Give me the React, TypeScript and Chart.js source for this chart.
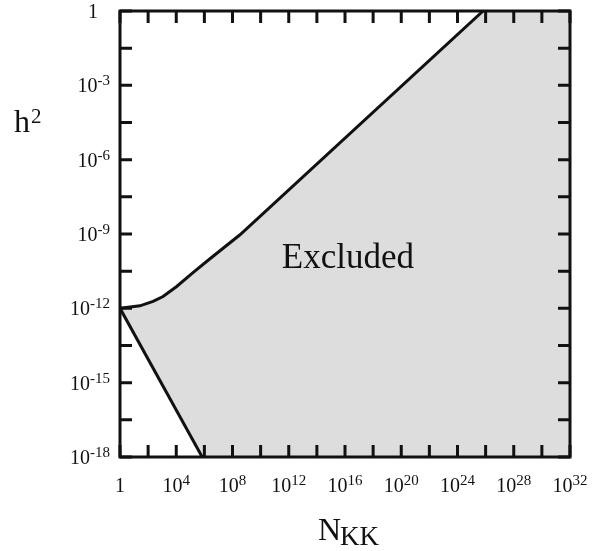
import React, { useEffect, useRef } from "react";
import { Chart, registerables } from "chart.js";

Chart.register(...registerables);

// Upper boundary of the excluded region (N_KK, h^2)
const upperN = [1, 26, 224, 1150, 1.07e4, 1.55e5, 2.5e6, 3.4e8, 6.6e25];
const upperH = [1e-12, 1.26e-12, 1.9e-12, 3.0e-12, 7.6e-12, 2.75e-11, 1e-10, 9.3e-10, 1];
// Lower boundary of the excluded region
const lowerN = [1, 7e5];
const lowerH = [1e-12, 1e-18];

const xMin = 1;
const xMax = 1e32;
const yMin = 1e-18;
const yMax = 1;

const xLabelExps = [0, 4, 8, 12, 16, 20, 24, 28, 32];
const yLabelExps = [0, -3, -6, -9, -12, -15, -18];
const xTickExps = [0, 2, 4, 6, 8, 10, 12, 14, 16, 18, 20, 22, 24, 26, 28, 30, 32];
const yTickExps = [0, -1.5, -3, -4.5, -6, -7.5, -9, -10.5, -12, -13.5, -15, -16.5, -18];

const regionLabel = "Excluded";
const regionLabelN = 1.6e16;
const regionLabelH = 1.26e-10;

const xTitle = ["N", "KK"];
const yTitle = ["h", "2"];

const FONT = '"Liberation Serif", "Times New Roman", serif';
const INK = "#111111";
const FILL = "#dddddd";

function powParts(exp: number): [string, string] {
  if (exp === 0) return ["1", ""];
  return ["10", String(exp)];
}

const decorPlugin = {
  id: "decor",
  afterDraw(chart: any) {
    const { ctx, chartArea } = chart;
    const xs = chart.scales.x;
    const ys = chart.scales.y;
    const { left, right, top, bottom } = chartArea;
    ctx.save();

    // Region label
    ctx.fillStyle = INK;
    ctx.font = `35px ${FONT}`;
    ctx.textAlign = "center";
    ctx.textBaseline = "alphabetic";
    ctx.fillText(regionLabel, xs.getPixelForValue(regionLabelN), ys.getPixelForValue(regionLabelH) + 12);

    // Frame
    ctx.strokeStyle = INK;
    ctx.lineWidth = 3;
    ctx.strokeRect(left, top, right - left, bottom - top);

    // Inward ticks
    const tl = 12;
    ctx.beginPath();
    for (const e of xTickExps) {
      const px = xs.getPixelForValue(Math.pow(10, e));
      ctx.moveTo(px, bottom);
      ctx.lineTo(px, bottom - tl);
      ctx.moveTo(px, top);
      ctx.lineTo(px, top + tl);
    }
    for (const e of yTickExps) {
      const py = ys.getPixelForValue(Math.pow(10, e));
      ctx.moveTo(left, py);
      ctx.lineTo(left + tl, py);
      ctx.moveTo(right, py);
      ctx.lineTo(right - tl, py);
    }
    ctx.stroke();

    // Tick labels
    const baseFont = `20px ${FONT}`;
    const expFont = `15px ${FONT}`;
    ctx.textAlign = "left";
    ctx.textBaseline = "alphabetic";
    for (const e of xLabelExps) {
      const px = xs.getPixelForValue(Math.pow(10, e));
      const [b, s] = powParts(e);
      ctx.font = baseFont;
      const wb = ctx.measureText(b).width;
      ctx.font = expFont;
      const ws = s ? ctx.measureText(s).width : 0;
      const x0 = px - (wb + ws) / 2;
      ctx.font = baseFont;
      ctx.fillText(b, x0, bottom + 35);
      if (s) {
        ctx.font = expFont;
        ctx.fillText(s, x0 + wb, bottom + 28);
      }
    }
    for (const e of yLabelExps) {
      const py = ys.getPixelForValue(Math.pow(10, e));
      const [b, s] = powParts(e);
      ctx.font = baseFont;
      const wb = ctx.measureText(b).width;
      ctx.font = expFont;
      const ws = s ? ctx.measureText(s).width : 0;
      const rightEdge = s ? left - 10 : left - 22;
      const x0 = rightEdge - wb - ws;
      ctx.font = baseFont;
      ctx.fillText(b, x0, py + 7);
      if (s) {
        ctx.font = expFont;
        ctx.fillText(s, x0 + wb, py);
      }
    }

    // Axis titles
    ctx.font = `32px ${FONT}`;
    ctx.fillText(yTitle[0], 14, 132);
    const wh = ctx.measureText(yTitle[0]).width;
    ctx.font = `21px ${FONT}`;
    ctx.fillText(yTitle[1], 14 + wh + 1, 123);

    ctx.font = `32px ${FONT}`;
    ctx.fillText(xTitle[0], 318, 540);
    const wn = ctx.measureText(xTitle[0]).width;
    ctx.font = `27px ${FONT}`;
    ctx.fillText(xTitle[1], 318 + wn - 1, 545);

    ctx.restore();
  },
};

export default function App() {
  const ref = useRef<HTMLCanvasElement | null>(null);

  useEffect(() => {
    if (!ref.current) return;
    const upper = upperN.map((n, i) => ({ x: n, y: upperH[i] }));
    const lower = lowerN.map((n, i) => ({ x: n, y: lowerH[i] }));
    const polygon = [
      ...upper,
      { x: xMax, y: yMax },
      { x: xMax, y: yMin },
      ...lower.slice().reverse(),
    ];
    const chart = new Chart(ref.current, {
      type: "scatter",
      data: {
        datasets: [
          {
            label: "excluded",
            data: polygon,
            showLine: true,
            fill: "shape",
            backgroundColor: FILL,
            borderWidth: 0,
            borderColor: "rgba(0,0,0,0)",
            pointRadius: 0,
            order: 3,
          } as any,
          {
            label: "upper",
            data: upper,
            showLine: true,
            fill: false,
            borderColor: INK,
            borderWidth: 3,
            pointRadius: 0,
            order: 1,
          },
          {
            label: "lower",
            data: lower,
            showLine: true,
            fill: false,
            borderColor: INK,
            borderWidth: 3,
            pointRadius: 0,
            order: 1,
          },
        ],
      },
      options: {
        responsive: false,
        animation: false,
        devicePixelRatio: 1,
        layout: { padding: { left: 120, right: 38, top: 11, bottom: 94 } },
        plugins: { legend: { display: false }, tooltip: { enabled: false } },
        scales: {
          x: { type: "logarithmic", min: xMin, max: xMax, display: false },
          y: { type: "logarithmic", min: yMin, max: yMax, display: false },
        },
      },
      plugins: [decorPlugin],
    });
    return () => chart.destroy();
  }, []);

  return (
    <div style={{ position: "fixed", left: 0, top: 0, width: 608, height: 551, background: "#fff" }}>
      <canvas ref={ref} width={608} height={551} />
    </div>
  );
}
